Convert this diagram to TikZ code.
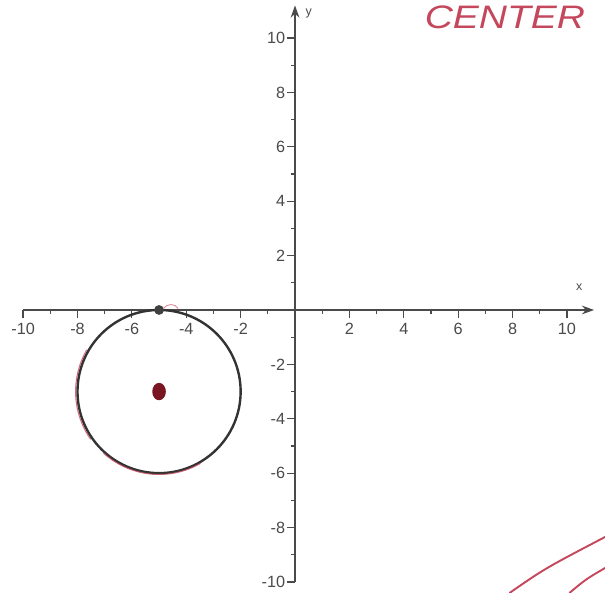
\documentclass[tikz,border=0pt]{standalone}
\usepackage{fontspec}
\setmainfont{Liberation Sans}
\usetikzlibrary{arrows.meta}
\definecolor{axisgray}{HTML}{4A4A4A}
\definecolor{penred}{HTML}{C4475C}
\definecolor{dotred}{HTML}{7A1622}
\tikzset{
  axisline/.style={axisgray, line width=1.7pt, -{Stealth[length=0.45cm,width=0.32cm]}},
  tickline/.style={axisgray, line width=1.3pt},
  ticklabel/.style={axisgray, inner sep=1pt, font=\fontsize{17}{19}\selectfont},
  axislabel/.style={axisgray, inner sep=1pt, font=\fontsize{13}{15}\selectfont},
  penline/.style={penred, line width=2pt, line cap=round},
  circleline/.style={black!80, line width=2.5pt},
}
\begin{document}
\begin{tikzpicture}
\useasboundingbox (-10.85,-10.4) rectangle (11.4,11.4);
%\draw[step=1cm,gray,very thin] (-10,-10) grid (10,10);
\coordinate (xmin) at (-10,0);
\coordinate (xmax) at (11,0);
\coordinate (ymin) at (0,-10);
\coordinate (ymax) at (0,11.2);
\draw[axisline] (xmin) -- (xmax);
\draw[axisline] (ymin) -- (ymax);
\node[axislabel] (xlab) at (10.45,0.85) {x};
\node[axislabel] (ylab) at (0.5,10.9) {y};
% ticks
\foreach \v in {-10,-8,...,10}{
  \ifnum\v=0\else
  \draw[tickline] (\v,0) -- ++(0,-0.28);
  \draw[tickline] (0,\v) -- ++(-0.3,0);
  \node[ticklabel,anchor=north] (xt\v) at (\v,-0.45) {\v};
  \node[ticklabel,anchor=east] (yt\v) at (-0.32,\v) {\v};
  \fi
}
\foreach \v in {-9,-7,...,9}{
  \draw[tickline] (\v,0) -- ++(0,-0.15);
  \draw[tickline] (0,\v) -- ++(-0.15,0);
}
% circle, center (-5,-3), r=3
\coordinate (c) at (-5,-3);
\draw[circleline] (c) circle (3);
\draw[penred, line width=1.1pt, opacity=0.8] ([shift={(150:3.07)}]c) arc (150:215:3.07);
\draw[penred, line width=1.1pt, opacity=0.8] ([shift={(228:3.05)}]c) arc (228:300:3.05);
\fill[dotred] (c) ellipse (0.25 and 0.32);
\fill[black!75] (-5,0) circle (0.18);
\draw[penred!60, line width=1pt] (-4.85,0.05) .. controls (-4.7,0.25) and (-4.4,0.25) .. (-4.3,0.05);
% handwriting
\node[penred, inner sep=0pt, font=\fontsize{34}{36}\itshape, xscale=1.2] (center) at (7.72,10.75) {CENTER};
\draw[penline] (7.9,-10.4) .. controls (9.2,-9.5) .. (11.4,-8.35);
\draw[penline] (10.1,-10.4) .. controls (10.7,-9.9) .. (11.4,-9.49);
\end{tikzpicture}
\end{document}
